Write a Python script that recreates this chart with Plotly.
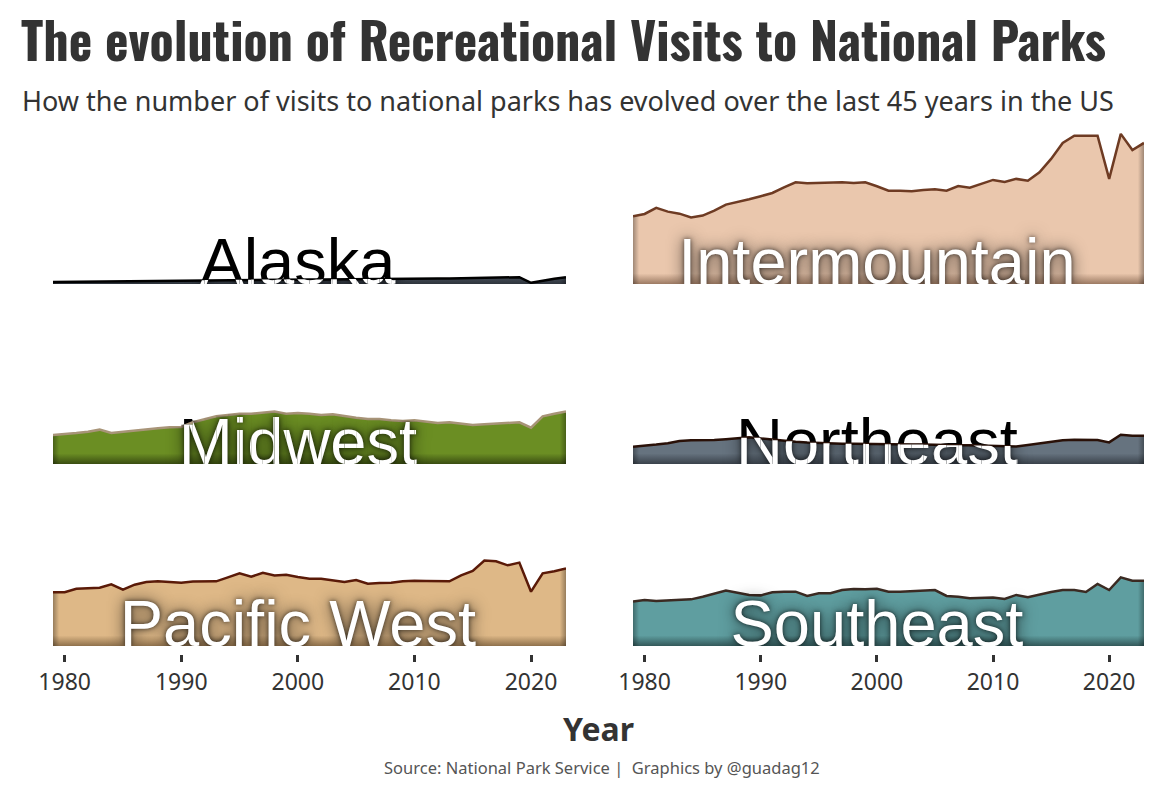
import plotly.graph_objects as go

# ---------------- data (millions of visits approx.) -------------
YEARS = list(range(1979, 2024))
REGIONS = ["Alaska", "Intermountain", "Midwest", "Northeast", "Pacific West", "Southeast"]

alaska = [1.3, 1.4, 1.5, 1.6, 1.7, 1.8, 1.9, 2.0, 2.1, 2.2, 2.3, 2.4, 2.5, 2.6, 2.7, 2.8,
          2.9, 3.0, 3.0, 3.1, 3.1, 3.2, 3.1, 3.1, 3.2, 3.3, 3.3, 3.3, 3.4, 3.4, 3.5, 3.6,
          3.6, 3.7, 3.7, 3.8, 4.0, 4.2, 4.4, 4.5, 4.6, 0.8, 2.3, 3.5, 4.5]
intermountain = [45.7, 47.3, 51.4, 48.9, 47.5, 45.0, 46.2, 49.5, 53.6, 55.2, 57.2, 59.3, 61.5,
                 65.3, 68.7, 68.0, 68.2, 68.7, 68.7, 68.2, 68.7, 66.0, 63.0, 63.0, 62.6, 63.5,
                 64.0, 63.0, 66.2, 65.0, 67.6, 70.3, 68.9, 71.0, 69.8, 75.5, 84.5, 95.3, 100.2,
                 100.2, 100.2, 71.0, 101.4, 90.5, 95.3]
midwest = [19.6, 20.0, 20.9, 21.8, 23.2, 20.9, 21.8, 22.5, 23.2, 24.1, 24.8, 25.0, 28.2, 30.4,
           32.2, 33.1, 34.0, 34.0, 34.9, 35.4, 34.0, 34.5, 34.0, 33.1, 33.6, 32.2, 31.3, 30.4,
           30.4, 29.5, 29.1, 29.5, 28.6, 27.7, 28.2, 27.3, 26.4, 26.8, 27.3, 27.7, 28.2, 24.5,
           32.2, 34.0, 35.4]
northeast = [11.7, 12.2, 13.1, 14.0, 15.5, 16.0, 16.0, 16.2, 16.7, 17.3, 18.0, 17.3, 16.4, 15.8,
             15.1, 14.6, 14.2, 14.0, 13.7, 13.7, 13.5, 13.5, 13.3, 13.3, 13.1, 13.1, 12.8, 12.8,
             12.6, 12.6, 12.4, 12.4, 12.4, 11.9, 12.8, 14.0, 15.1, 16.0, 16.4, 16.4, 16.2, 14.6,
             19.8, 19.1, 19.1]
pacific_west = [36.3, 36.3, 38.7, 39.2, 39.4, 41.7, 38.1, 41.4, 43.2, 43.7, 43.5, 42.8, 43.5,
                43.7, 43.7, 46.4, 49.1, 46.8, 49.5, 47.7, 48.2, 46.6, 45.5, 45.5, 44.6, 43.2,
                44.6, 42.1, 42.6, 42.8, 43.7, 44.1, 43.9, 43.9, 43.7, 47.7, 50.7, 57.7, 57.2,
                54.5, 56.3, 36.7, 49.1, 50.5, 52.3]
southeast = [30.0, 31.1, 30.4, 30.9, 31.1, 31.5, 33.3, 35.6, 37.4, 36.0, 34.5, 34.2, 36.3, 36.7,
             36.7, 33.8, 35.6, 35.6, 37.8, 38.5, 38.3, 38.7, 36.7, 36.7, 37.2, 37.4, 37.8, 33.8,
             33.3, 32.2, 32.7, 32.7, 31.8, 34.5, 32.9, 34.9, 36.5, 37.8, 37.8, 36.5, 41.9, 37.8,
             46.4, 44.1, 44.1]
SERIES = [alaska, intermountain, midwest, northeast, pacific_west, southeast]

TICKS = [1980, 1990, 2000, 2010, 2020]

FILL = ["#505a67", "#eac7ad", "#6b8e23", "#66737f", "#deb887", "#5f9ea0"]
FILL_DARK = ["#2e343c", "#9c7a63", "#3a4d12", "#3a424b", "#8f714c", "#33595a"]
LINE = ["#000000", "#6e3b23", "#a89478", "#2a1108", "#5a1a08", "#3b2a22"]
# labels whose text crosses the curve -> black above the curve, white below
CLIP = {"Alaska", "Midwest", "Northeast"}

# ---------------- layout constants -----------------
W, H = 1176, 796
COL_X = [(53, 566), (633, 1144)]
ROW_BASE = [284, 464, 646]
PANEL_H = 151
Y_TOP = 102.0
PXU = PANEL_H / Y_TOP
LABEL_SIZE = 65
LABEL_X = 2000
LABEL_FONT = "Liberation Sans, Arial, sans-serif"
TICK_Y = 654
X0, X1 = YEARS[0], YEARS[-1]
EDGE_SHADE = [[0, "rgba(0,0,0,0.32)"], [0.012, "rgba(0,0,0,0)"],
              [0.988, "rgba(0,0,0,0)"], [1, "rgba(0,0,0,0.32)"]]


def px_x(col, year):
    a, b = COL_X[col]
    return a + (year - X0) / (X1 - X0) * (b - a)


def pfy(py):
    return 1 - py / H


label_y = -0.25 * LABEL_SIZE / PXU  # puts the text baseline on y = 0

fig = go.Figure()
layout = dict(
    width=W, height=H, margin=dict(l=0, r=0, t=0, b=0, pad=0, autoexpand=False),
    paper_bgcolor="white", plot_bgcolor="rgba(0,0,0,0)", showlegend=False,
)

white_font = dict(family=LABEL_FONT, size=LABEL_SIZE, color="white",
                  shadow="0px 0px 5px rgba(0,0,0,0.7), 0px 0px 16px rgba(0,0,0,0.75)")
black_font = dict(family=LABEL_FONT, size=LABEL_SIZE, color="black")

strips = []
for i, (name, vals) in enumerate(zip(REGIONS, SERIES)):
    col, row = i % 2, i // 2
    n = i + 1
    xa, ya = ("x" if n == 1 else f"x{n}"), ("y" if n == 1 else f"y{n}")
    base = ROW_BASE[row]
    bottom = row == 2
    xaxis = dict(domain=[COL_X[col][0] / W, COL_X[col][1] / W], range=[X0, X1],
                 showgrid=False, zeroline=False, showline=False, fixedrange=True,
                 automargin=False)
    if bottom:
        xaxis.update(anchor="free", position=pfy(TICK_Y), tickvals=TICKS,
                     ticks="outside", ticklen=7, tickwidth=2.5, tickcolor="#333333",
                     tickfont=dict(family="Noto Sans", size=23, color="#333333"))
    else:
        xaxis.update(showticklabels=False, ticks="", anchor=ya)
    yaxis = dict(domain=[pfy(base), pfy(base - PANEL_H)], range=[0, Y_TOP], anchor=xa,
                 visible=False, fixedrange=True, automargin=False)
    layout["xaxis" if n == 1 else f"xaxis{n}"] = xaxis
    layout["yaxis" if n == 1 else f"yaxis{n}"] = yaxis

    if name in CLIP:
        fig.add_trace(go.Scatter(x=[LABEL_X], y=[label_y], mode="text", text=[name],
                                 textposition="top center", textfont=black_font,
                                 xaxis=xa, yaxis=ya, hoverinfo="skip", cliponaxis=True))
    # area with darker bottom
    fig.add_trace(go.Scatter(
        x=YEARS, y=vals, mode="lines", fill="tozeroy",
        fillgradient=dict(type="vertical", start=0, stop=Y_TOP,
                          colorscale=[[0, FILL_DARK[i]], [0.07, FILL[i]], [1, FILL[i]]]),
        line=dict(width=0), xaxis=xa, yaxis=ya, hoverinfo="skip"))
    # same area again: dark side edges + the curve line
    fig.add_trace(go.Scatter(
        x=YEARS, y=vals, mode="lines", fill="tozeroy",
        fillgradient=dict(type="horizontal", start=X0, stop=X1, colorscale=EDGE_SHADE),
        line=dict(color=LINE[i], width=2.5), xaxis=xa, yaxis=ya, hoverinfo="skip"))
    if name not in CLIP:
        fig.add_trace(go.Scatter(x=[LABEL_X], y=[label_y], mode="text", text=[name],
                                 textposition="top center", textfont=white_font,
                                 xaxis=xa, yaxis=ya, hoverinfo="skip", cliponaxis=True))
    else:
        strips.append((col, base, vals, name))

# white part of the crossing labels: narrow subplots, one per year, each clipped at the curve
k = len(REGIONS)
for col, base, vals, name in strips:
    for j in range(len(YEARS) - 1):
        yr0, yr1 = YEARS[j], YEARS[j + 1]
        if yr1 < 1985 or yr0 > 2014:
            continue
        vmid = (vals[j] + vals[j + 1]) / 2
        k += 1
        xa, ya = f"x{k}", f"y{k}"
        layout[f"xaxis{k}"] = dict(domain=[px_x(col, yr0) / W, px_x(col, yr1) / W],
                                   range=[yr0, yr1], anchor=ya, visible=False,
                                   fixedrange=True, automargin=False)
        layout[f"yaxis{k}"] = dict(domain=[pfy(base), pfy(base - vmid * PXU)],
                                   range=[0, vmid], anchor=xa, visible=False,
                                   fixedrange=True, automargin=False)
        fig.add_trace(go.Scatter(x=[LABEL_X], y=[label_y], mode="text", text=[name],
                                 textposition="top center", textfont=white_font,
                                 xaxis=xa, yaxis=ya, hoverinfo="skip", cliponaxis=True))

layout["annotations"] = [
    dict(text="The evolution of Recreational Visits to National Parks", x=19 / W, y=pfy(37.5),
         xref="paper", yref="paper", xanchor="left", yanchor="middle", showarrow=False,
         font=dict(family="Oswald, Roboto Condensed, sans-serif", size=50, color="#333333",
                   weight="bold")),
    dict(text="How the number of visits to national parks has evolved over the last 45 years in the US",
         x=20 / W, y=pfy(101), xref="paper", yref="paper", xanchor="left", yanchor="middle",
         showarrow=False, font=dict(family="Noto Sans", size=27, color="#333333")),
    dict(text="<b>Year</b>", x=598 / W, y=pfy(728), xref="paper", yref="paper",
         xanchor="center", yanchor="middle", showarrow=False,
         font=dict(family="Noto Sans", size=32, color="#333333")),
    dict(text="Source: National Park Service |  Graphics by @guadag12", x=602 / W, y=pfy(767),
         xref="paper", yref="paper", xanchor="center", yanchor="middle", showarrow=False,
         font=dict(family="Noto Sans", size=16.5, color="#555555")),
]

fig.update_layout(**layout)
fig.write_html("out.html")
